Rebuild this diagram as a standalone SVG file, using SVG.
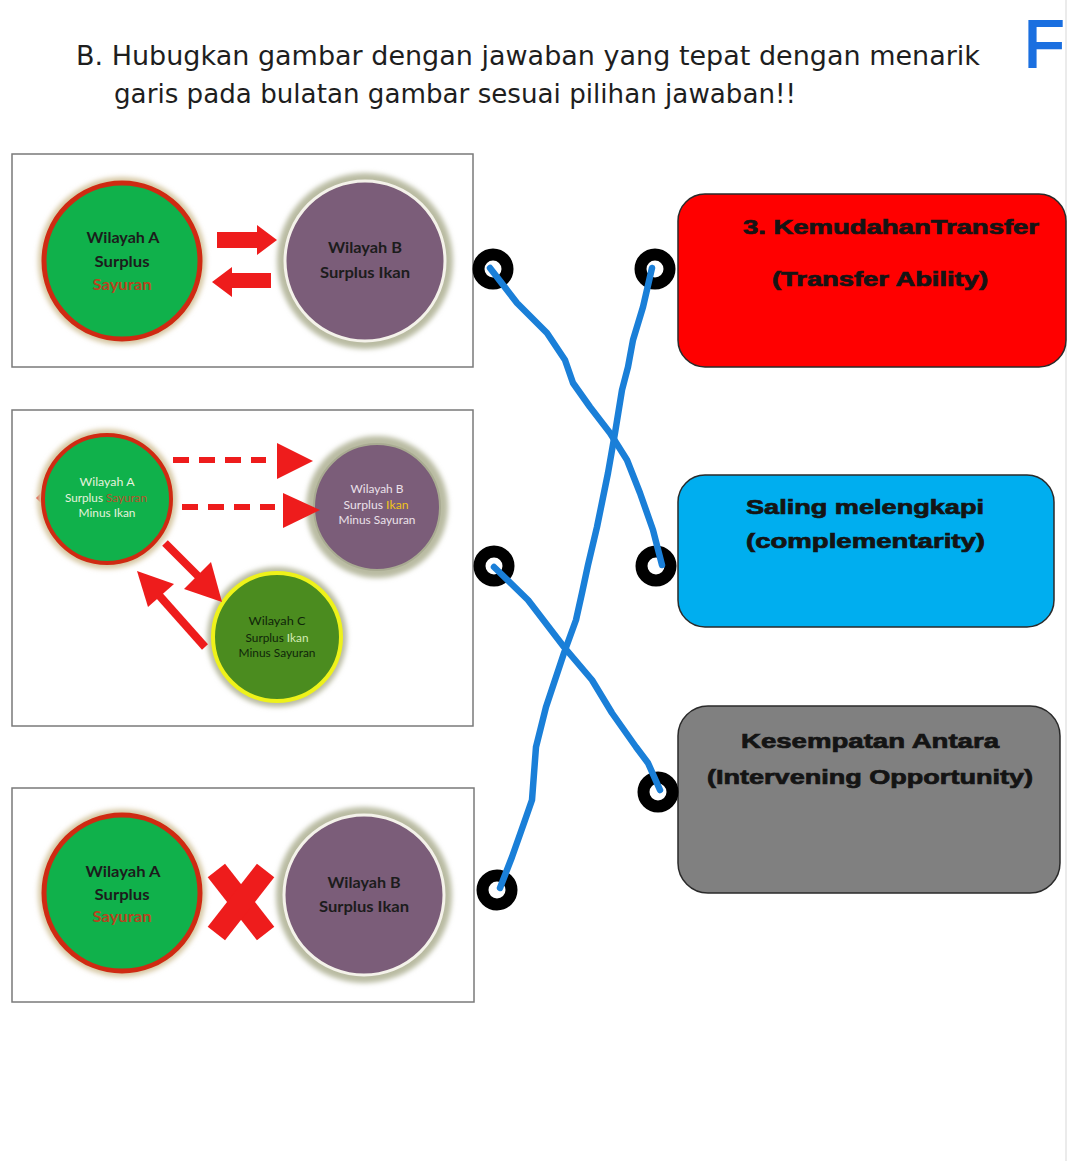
<svg xmlns="http://www.w3.org/2000/svg" width="1080" height="1161" viewBox="0 0 1080 1161">
<defs>
<filter id="blur" x="-20%" y="-20%" width="140%" height="140%"><feGaussianBlur stdDeviation="2.5"/></filter>
</defs>
<style>
.frame{fill:#fff;stroke:#7a7a7a;stroke-width:1.5}
.haloA{fill:#d6c7a3;filter:url(#blur)}
.haloB{fill:#b9bba2;filter:url(#blur)}
.cA{fill:#10b14b;stroke:#cf2a12;stroke-width:5}
.cB{fill:#7b5d79;stroke:#f4f2ea;stroke-width:3}
.cC{fill:#4b8c1f;stroke:#eef21a;stroke-width:4}
.big{font-family:Lato,"Open Sans","Liberation Sans",sans-serif;font-weight:700;font-size:15px;fill:#1c1c1c;text-anchor:middle}
.sm{font-family:Lato,"Open Sans","Liberation Sans",sans-serif;font-size:11.5px;text-anchor:middle}
.red{fill:#ee1c1c}
.ans{font-family:"Liberation Sans",Arial,sans-serif;font-weight:700;font-size:20px;fill:#141414;stroke:#141414;stroke-width:0.7;text-anchor:start}
.box{stroke:#2a2a2a;stroke-width:1.5}
.ring{fill:none;stroke:#000;stroke-width:12}
.wire{fill:none;stroke:#1a7fd8;stroke-width:6.5;stroke-linecap:round;stroke-linejoin:round}
.title{font-family:"DejaVu Sans","Liberation Sans",sans-serif;font-size:26px;fill:#1e1e1e}
</style>
<rect width="1080" height="1161" fill="#ffffff"/>
<line x1="1066" y1="0" x2="1066" y2="1161" stroke="#e4e4e4" stroke-width="1.5"/>

<g id="title">
<text class="title" x="76" y="65" textLength="904" lengthAdjust="spacingAndGlyphs">B. Hubugkan gambar dengan jawaban yang tepat dengan menarik</text>
<text class="title" x="114" y="103" textLength="682" lengthAdjust="spacingAndGlyphs">garis pada bulatan gambar sesuai pilihan jawaban!!</text>
<text x="1024" y="67" font-family="'Liberation Sans',Arial,sans-serif" font-size="66" fill="#1a6fe0" stroke="#1a6fe0" stroke-width="2">F</text>
</g>

<g id="panel1">
<rect class="frame" x="12" y="154" width="461" height="213"/>
<circle class="haloA" cx="122" cy="261" r="84"/>
<circle class="cA" cx="122" cy="261" r="78"/>
<circle class="haloB" cx="365" cy="261" r="88"/>
<circle class="cB" cx="365" cy="261" r="80"/>
<polygon class="red" points="217,232 257,232 257,225 277,240 257,255 257,248 217,248"/>
<polygon class="red" points="271,273 232,273 232,267 212,282 232,297 232,288 271,288"/>
<text class="big" x="123" y="243" textLength="73" lengthAdjust="spacingAndGlyphs">Wilayah A</text>
<text class="big" x="122" y="267" textLength="55" lengthAdjust="spacingAndGlyphs">Surplus</text>
<text class="big" x="122" y="290" textLength="59" lengthAdjust="spacingAndGlyphs" fill="#b8441f" style="fill:#b8441f">Sayuran</text>
<text class="big" x="365" y="253" textLength="74" lengthAdjust="spacingAndGlyphs">Wilayah B</text>
<text class="big" x="365" y="278" textLength="90" lengthAdjust="spacingAndGlyphs">Surplus Ikan</text>
</g>

<g id="panel2">
<rect class="frame" x="12" y="410" width="461" height="316"/>
<polygon class="red" points="36,498 43,491 43,505"/>
<circle class="haloA" cx="107" cy="499" r="70"/>
<circle class="cA" cx="107" cy="499" r="64" style="stroke-width:4"/>
<circle class="haloB" cx="377" cy="507" r="71"/>
<circle class="cB" cx="377" cy="507" r="63" style="stroke-width:2;stroke:#a9ab92"/>
<circle class="haloB" cx="277" cy="637" r="70"/>
<circle class="cC" cx="277" cy="637" r="64"/>
<!-- dashed arrows -->
<line x1="173" y1="460" x2="266" y2="460" stroke="#ee1c1c" stroke-width="6" stroke-dasharray="16,10"/>
<polygon class="red" points="277,443 313,461 277,479"/>
<line x1="182" y1="507" x2="275" y2="507" stroke="#ee1c1c" stroke-width="6" stroke-dasharray="16,10"/>
<polygon class="red" points="283,493 320,510 283,528"/>
<!-- diagonal arrows -->
<line x1="165" y1="543" x2="200" y2="578" stroke="#ee1c1c" stroke-width="8"/>
<polygon class="red" points="184,589 211,562 222,602"/>
<line x1="205" y1="647" x2="157" y2="593" stroke="#ee1c1c" stroke-width="8"/>
<polygon class="red" points="137,571 174,584 148,607"/>
<text class="sm" x="107" y="486" textLength="55" lengthAdjust="spacingAndGlyphs" fill="#e6f2dd">Wilayah A</text>
<text class="sm" x="106" y="502" textLength="82" lengthAdjust="spacingAndGlyphs" fill="#e6f2dd">Surplus <tspan fill="#b9532b">Sayuran</tspan></text>
<text class="sm" x="107" y="517" textLength="57" lengthAdjust="spacingAndGlyphs" fill="#e6f2dd">Minus Ikan</text>
<text class="sm" x="377" y="493" textLength="53" lengthAdjust="spacingAndGlyphs" fill="#ebe1ea">Wilayah B</text>
<text class="sm" x="376" y="509" textLength="65" lengthAdjust="spacingAndGlyphs" fill="#ebe1ea">Surplus <tspan fill="#f2c418">Ikan</tspan></text>
<text class="sm" x="377" y="524" textLength="77" lengthAdjust="spacingAndGlyphs" fill="#ebe1ea">Minus Sayuran</text>
<text class="sm" x="277" y="625" textLength="57" lengthAdjust="spacingAndGlyphs" fill="#10260a">Wilayah C</text>
<text class="sm" x="277" y="642" textLength="63" lengthAdjust="spacingAndGlyphs" fill="#10260a">Surplus <tspan fill="#d4ebb6">Ikan</tspan></text>
<text class="sm" x="277" y="657" textLength="77" lengthAdjust="spacingAndGlyphs" fill="#10260a">Minus Sayuran</text>
</g>

<g id="panel3">
<rect class="frame" x="12" y="788" width="462" height="214"/>
<circle class="haloA" cx="122" cy="893" r="84"/>
<circle class="cA" cx="122" cy="893" r="78"/>
<circle class="haloB" cx="364" cy="895" r="88"/>
<circle class="cB" cx="364" cy="895" r="80"/>
<g transform="translate(241,902)">
<rect class="red" x="-40" y="-11" width="80" height="22" transform="rotate(52)"/>
<rect class="red" x="-40" y="-11" width="80" height="22" transform="rotate(-52)"/>
</g>
<text class="big" x="123" y="877" textLength="75" lengthAdjust="spacingAndGlyphs">Wilayah A</text>
<text class="big" x="122" y="900" textLength="55" lengthAdjust="spacingAndGlyphs">Surplus</text>
<text class="big" x="122" y="922" textLength="59" lengthAdjust="spacingAndGlyphs" style="fill:#b8441f">Sayuran</text>
<text class="big" x="364" y="888" textLength="73" lengthAdjust="spacingAndGlyphs">Wilayah B</text>
<text class="big" x="364" y="912" textLength="90" lengthAdjust="spacingAndGlyphs">Surplus Ikan</text>
</g>

<g id="answer-transfer">
<rect class="box" x="678" y="194" width="388" height="173" rx="27" fill="#ff0000"/>
<text class="ans" x="743" y="234" textLength="296" lengthAdjust="spacingAndGlyphs">3.  KemudahanTransfer</text>
<text class="ans" x="772" y="286" textLength="216" lengthAdjust="spacingAndGlyphs">(Transfer Ability)</text>
</g>

<g id="answer-complementarity">
<rect class="box" x="678" y="475" width="376" height="152" rx="27" fill="#00aeef"/>
<text class="ans" x="746" y="514" textLength="238" lengthAdjust="spacingAndGlyphs">Saling melengkapi</text>
<text class="ans" x="746" y="548" textLength="239" lengthAdjust="spacingAndGlyphs">(complementarity)</text>
</g>

<g id="answer-intervening">
<rect class="box" x="678" y="706" width="382" height="187" rx="30" fill="#808080"/>
<text class="ans" x="741" y="748" textLength="258" lengthAdjust="spacingAndGlyphs">Kesempatan Antara</text>
<text class="ans" x="707" y="784" textLength="326" lengthAdjust="spacingAndGlyphs">(Intervening Opportunity)</text>
</g>

<g id="rings">
<circle class="ring" cx="493" cy="269" r="14.5"/>
<circle class="ring" cx="494" cy="566" r="14.5"/>
<circle class="ring" cx="497" cy="890" r="14.5"/>
<circle class="ring" cx="655" cy="269" r="14.5"/>
<circle class="ring" cx="656" cy="566" r="14.5"/>
<circle class="ring" cx="658" cy="792" r="14.5"/>
</g>

<g id="connectors">
<path class="wire" d="M490,268 L517,303 L547,333 L565,360 L573,383 L590,407 L610,433 L627,460 L640,493 L653,530 L662,565"/>
<path class="wire" d="M652,268 L643,307 L633,340 L628,367 L622,390 L615,433 L608,473 L597,527 L588,565 L582,593 L576,620 L564,653 L546,707 L536,747 L532,800 L524,823 L512,857 L500,888"/>
<path class="wire" d="M494,567 L528,600 L564,647 L592,680 L612,713 L636,747 L648,763 L660,790"/>
</g>
</svg>
